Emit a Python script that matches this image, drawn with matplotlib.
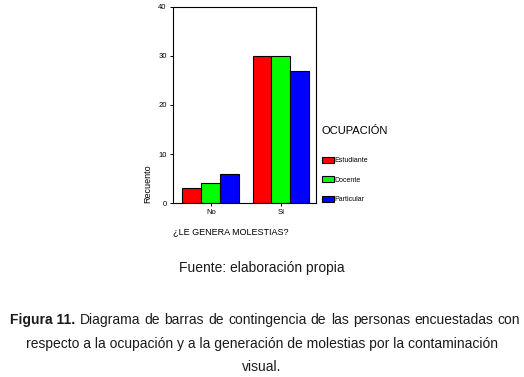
import matplotlib.pyplot as plt
import numpy as np

plt.rcParams['font.family'] = ['Liberation Sans', 'DejaVu Sans']

# Data
categorias = ['No', 'Sí']
ocupaciones = ['Estudiante', 'Docente', 'Particular']
recuento = {
    'Estudiante': [3, 30],
    'Docente': [4, 30],
    'Particular': [6, 27],
}
colores = ['#ff0000', '#00ff00', '#0000ff']

fig = plt.figure(figsize=(5.24, 3.77), dpi=100)
ax = fig.add_axes([0.330, 0.4615, 0.273, 0.520])

x = np.arange(len(categorias))
ancho = 0.27
for i, (ocup, col) in enumerate(zip(ocupaciones, colores)):
    ax.bar(x + (i - 1) * ancho, recuento[ocup], ancho, color=col,
           edgecolor='black', linewidth=0.8, label=ocup)

ax.set_xlim(-0.54, 1.5)
ax.set_ylim(0, 40)
ax.set_yticks([0, 10, 20, 30, 40])
ax.set_xticks(x)
ax.set_xticklabels(categorias)
ax.tick_params(labelsize=5.5, length=2.5, width=0.7, pad=2)
for s in ax.spines.values():
    s.set_linewidth(0.8)

ax.set_ylabel('Recuento', fontsize=6.5, labelpad=4, loc='bottom')
ax.set_xlabel('¿LE GENERA MOLESTIAS?', fontsize=6.5, labelpad=8, loc='left')

leg = ax.legend(title='OCUPACIÓN', loc='upper left',
                bbox_to_anchor=(319 / 524, 1 - 123 / 377),
                bbox_transform=fig.transFigure, frameon=False,
                fontsize=5, title_fontsize=8, alignment='left',
                handlelength=1.7, handleheight=1.0, handletextpad=0.05,
                labelspacing=1.75, borderaxespad=0)
leg._legend_box.sep = 15

fig.text(0.5, 1 - 268 / 377, 'Fuente: elaboración propia', ha='center',
         va='center', fontsize=10, color='#1a1a1a')

# first caption line, justified between x=10 and x=520
renderer = fig.canvas.get_renderer()
y1 = 1 - 320 / 377
palabras = ['Figura 11.'] + ('Diagrama de barras de contingencia de las personas '
                             'encuestadas con').split()
textos = []
for k, p in enumerate(palabras):
    t = fig.text(0, y1, p, ha='left', va='center', fontsize=10,
                 color='#1a1a1a', fontweight='bold' if k == 0 else 'normal')
    textos.append(t)
anchos = [t.get_window_extent(renderer).width for t in textos]
hueco = (510 - sum(anchos)) / (len(textos) - 1)
pos = 10
for t, w in zip(textos, anchos):
    t.set_x(pos / 524)
    pos += w + hueco

fig.text(0.5, 1 - 344 / 377,
         'respecto a la ocupación y a la generación de molestias por la contaminación',
         ha='center', va='center', fontsize=10, color='#1a1a1a')
fig.text(0.5, 1 - 367 / 377, 'visual.', ha='center', va='center',
         fontsize=10, color='#1a1a1a')

fig.savefig('out.png', dpi=100)
